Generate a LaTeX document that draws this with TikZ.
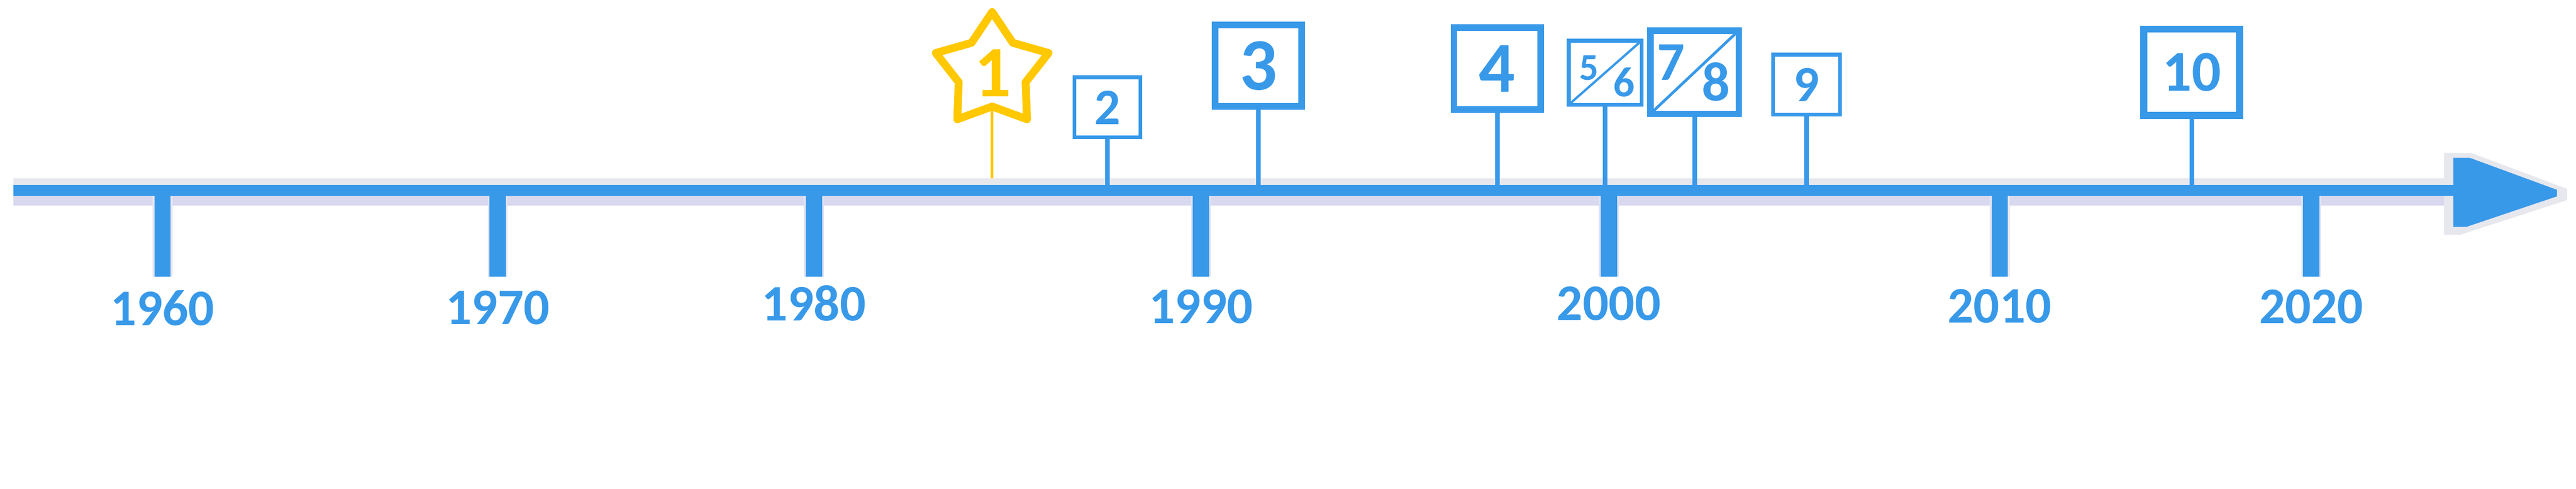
\documentclass[tikz,border=0pt]{standalone}
\usepackage{fontspec}
\setmainfont{Carlito}[Numbers=Lining]
\usepackage{tikz}

\definecolor{tlblue}{HTML}{3899E9}
\definecolor{tlgold}{HTML}{FFC800}
\definecolor{shadegray}{HTML}{E7E7EE}
\definecolor{shadelav}{HTML}{D8D9EE}
\definecolor{tickshade}{HTML}{E4E4F2}

\newcommand{\tlfont}[1]{\fontsize{#1}{#1}\selectfont\bfseries}

\tikzset{
    yearlabel/.style={text=tlblue, font=\tlfont{31.5}, inner sep=0pt},
    yeartick/.style={draw=tlblue, line width=0.35cm, preaction={draw=tickshade, line width=0.43cm}},
    thinbox/.style={draw=tlblue, fill=white, line width=0.08cm, text=tlblue, inner sep=0pt, outer sep=0pt},
    thickbox/.style={thinbox, line width=0.14cm},
    pole/.style={draw=tlblue, line width=0.10cm},
    goldpole/.style={draw=tlgold, line width=0.06cm},
    starline/.style={draw=tlgold, line width=0.17cm, line join=round},
    splitnum/.style={text=tlblue, inner sep=0pt}
}

\begin{document}
\begin{tikzpicture}[x=1cm,y=-1cm]

            \useasboundingbox (0,0) rectangle (55.64,10.56);

            % Shadow behind the axis and the arrow head
            \fill[shadegray] (0.29,3.85) rectangle (52.79,4.00);
            \fill[shadelav] (0.29,4.23) rectangle (52.79,4.44);
            \fill[shadegray] (52.79,3.30) -- (53.37,3.30) -- (55.45,4.08) -- (55.45,4.32) -- (53.14,5.07) -- (52.79,5.07) -- cycle;

            % Time axis with arrow head
            \fill[tlblue] (0.29,4.00) rectangle (52.99,4.23);
            \fill[tlblue] (52.99,3.41) -- (53.35,3.41) -- (55.23,4.10) -- (55.23,4.24) -- (53.27,4.90) -- (52.99,4.90) -- cycle;
            \coordinate (axtop) at (0.29,4.00);
            \coordinate (axbot) at (0.29,4.23);
            \coordinate (shadetop) at (0.29,3.85);

            % Decade labels under the axis
            \node[yearlabel] (y1960) at (3.51,6.65) {1960};
            \node[yearlabel] (y1970) at (10.75,6.65) {1970};
            \node[yearlabel] (y1980) at (17.58,6.55) {1980};
            \node[yearlabel] (y1990) at (25.94,6.62) {1990};
            \node[yearlabel] (y2000) at (34.75,6.56) {2000};
            \node[yearlabel] (y2010) at (43.19,6.61) {2010};
            \node[yearlabel] (y2020) at (49.92,6.62) {2020};

            % Decade ticks
            \draw[yeartick] (y1960.north |- axbot) -- ++(0,1.75);
            \draw[yeartick] (y1970.north |- axbot) -- ++(0,1.75);
            \draw[yeartick] (y1980.north |- axbot) -- ++(0,1.75);
            \draw[yeartick] (y1990.north |- axbot) -- ++(0,1.75);
            \draw[yeartick] (y2000.north |- axbot) -- ++(0,1.75);
            \draw[yeartick] (y2010.north |- axbot) -- ++(0,1.75);
            \draw[yeartick] (y2020.north |- axbot) -- ++(0,1.75);

            % Star for the first event
            \node[text=tlgold, inner sep=0pt, font=\tlfont{44.6}] (s1) at (21.45,1.58) {1};
            \draw[starline] plot[samples at={0,...,9}, variable=\k]
                ({21.43+ifthenelse(mod(\k,2)==0,1.28,0.76)*cos(270+36*\k)},
                 {1.54+ifthenelse(mod(\k,2)==0,1.28,0.76)*sin(270+36*\k)}) -- cycle;
            \coordinate (s1foot) at (21.43,2.30);

            % Event boxes above the axis
            \node[thinbox, minimum width=1.43cm, minimum height=1.30cm, font=\tlfont{31.5}] (b2) at (23.92,2.32) {2};
            \node[thickbox, minimum width=1.87cm, minimum height=1.76cm, font=\tlfont{45.5}] (b3) at (27.18,1.42) {3};
            \node[thickbox, minimum width=1.87cm, minimum height=1.77cm, font=\tlfont{44}] (b4) at (32.34,1.48) {4};
            \node[thinbox, minimum width=1.57cm, minimum height=1.38cm] (b56) at (34.67,1.57) {};
            \node[thickbox, minimum width=1.91cm, minimum height=1.80cm] (b78) at (36.60,1.56) {};
            \node[thinbox, minimum width=1.44cm, minimum height=1.30cm, font=\tlfont{31}] (b9) at (39.02,1.83) {9};
            \node[thickbox, line width=0.15cm, minimum width=2.07cm, minimum height=1.86cm, font=\tlfont{35.5}] (b10) at (47.34,1.56) {10};

            % Split boxes
            \draw[tlblue, line width=0.05cm] (b56.south west) -- (b56.north east);
            \draw[tlblue, line width=0.06cm] (b78.south west) -- (b78.north east);
            \node[splitnum, font=\tlfont{23.3}] (n5) at (34.32,1.47) {5};
            \node[splitnum, font=\tlfont{26}] (n6) at (35.08,1.78) {6};
            \node[splitnum, font=\tlfont{33.6}] (n7) at (36.09,1.35) {7};
            \node[splitnum, font=\tlfont{34}] (n8) at (37.06,1.77) {8};

            % Poles from the markers down to the axis
            \draw[goldpole] (s1foot) -- (s1foot |- shadetop);
            \draw[pole] (b2.south) -- (b2.south |- axtop);
            \draw[pole] (b3.south) -- (b3.south |- axtop);
            \draw[pole] (b4.south) -- (b4.south |- axtop);
            \draw[pole] (b56.south) -- (b56.south |- axtop);
            \draw[pole] (b78.south) -- (b78.south |- axtop);
            \draw[pole] (b9.south) -- (b9.south |- axtop);
            \draw[pole] (b10.south) -- (b10.south |- axtop);

\end{tikzpicture}
\end{document}
